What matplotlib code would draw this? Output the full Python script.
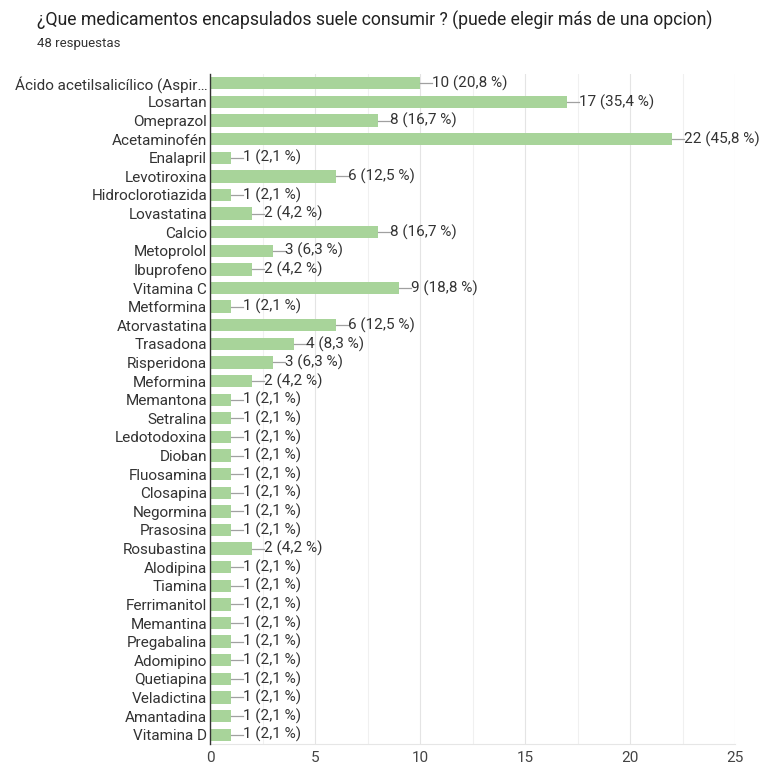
import matplotlib
matplotlib.use('Agg')
import matplotlib.pyplot as plt
from matplotlib.ticker import MultipleLocator

plt.rcParams['font.family'] = ['Roboto', 'DejaVu Sans']

# Survey data
labels = [
    'Ácido acetilsalicílico (Aspir…', 'Losartan', 'Omeprazol', 'Acetaminofén',
    'Enalapril', 'Levotiroxina', 'Hidroclorotiazida', 'Lovastatina', 'Calcio',
    'Metoprolol', 'Ibuprofeno', 'Vitamina C', 'Metformina', 'Atorvastatina',
    'Trasadona', 'Risperidona', 'Meformina', 'Memantona', 'Setralina',
    'Ledotodoxina', 'Dioban', 'Fluosamina', 'Closapina', 'Negormina',
    'Prasosina', 'Rosubastina', 'Alodipina', 'Tiamina', 'Ferrimanitol',
    'Memantina', 'Pregabalina', 'Adomipino', 'Quetiapina', 'Veladictina',
    'Amantadina', 'Vitamina D',
]
counts = [10, 17, 8, 22, 1, 6, 1, 2, 8, 3, 2, 9, 1, 6, 4, 3, 2, 1, 1,
          1, 1, 1, 1, 1, 1, 2, 1, 1, 1, 1, 1, 1, 1, 1, 1, 1]
percents = ['20,8', '35,4', '16,7', '45,8', '2,1', '12,5', '2,1', '4,2', '16,7',
            '6,3', '4,2', '18,8', '2,1', '12,5', '8,3', '6,3', '4,2', '2,1', '2,1',
            '2,1', '2,1', '2,1', '2,1', '2,1', '2,1', '4,2', '2,1', '2,1', '2,1',
            '2,1', '2,1', '2,1', '2,1', '2,1', '2,1', '2,1']
x_ticks = [0, 5, 10, 15, 20, 25]

bar_color = '#a8d49a'
text_color = '#333333'

fig = plt.figure(figsize=(7.63, 7.68), dpi=100)
ax = fig.add_axes([210 / 763, 1 - 744 / 768, 525 / 763, 670 / 768])

y = list(range(len(labels)))
ax.barh(y, counts, height=0.66, color=bar_color, zorder=2)

for yi, c, p in zip(y, counts, percents):
    ax.plot([c, c + 0.55], [yi, yi], color='#a0a0a0', linewidth=0.9, zorder=3)
    ax.text(c + 0.58, yi, f'{c} ({p} %)', va='center', ha='left',
            fontsize=11, color=text_color)

ax.set_ylim(len(labels) - 0.5, -0.5)
ax.set_xlim(0, 25)
ax.set_yticks(y)
ax.set_yticklabels(labels, fontsize=11, color=text_color)
ax.set_xticks(x_ticks)
ax.set_xticklabels([str(t) for t in x_ticks], fontsize=11, color='#444444')
ax.xaxis.set_minor_locator(MultipleLocator(2.5))
ax.tick_params(axis='both', which='both', length=0)
ax.tick_params(axis='y', pad=2)
ax.tick_params(axis='x', pad=5)

ax.grid(True, axis='x', which='major', color='#e4e4e4', linewidth=0.8, zorder=0)
ax.grid(True, axis='x', which='minor', color='#f0f0f0', linewidth=0.8, zorder=0)

for side in ['top', 'right']:
    ax.spines[side].set_visible(False)
ax.spines['bottom'].set_color('#e6e6e6')
ax.spines['left'].set_color('#333333')
ax.spines['left'].set_linewidth(1.0)
ax.spines['left'].set_zorder(4)

fig.text(37 / 763, 1 - 20 / 768, '¿Que medicamentos encapsulados suele consumir ? (puede elegir más de una opcion)',
         fontsize=12.7, color='#222222', va='center', ha='left')
fig.text(37 / 763, 1 - 44 / 768, '48 respuestas', fontsize=9.5, color='#333333',
         va='center', ha='left')

fig.savefig('out.png', dpi=100)
plt.close(fig)
